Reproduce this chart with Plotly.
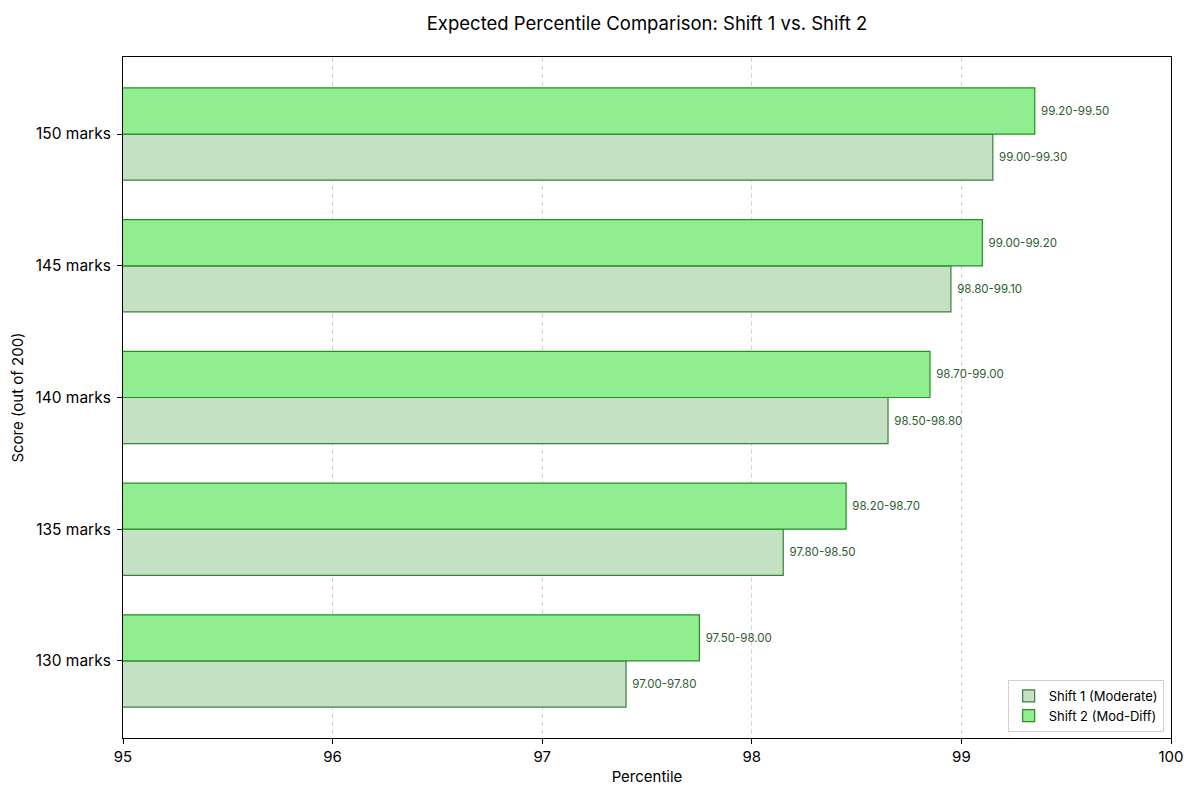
import plotly.graph_objects as go

# scores on the y axis, bottom to top
scores = ["130 marks", "135 marks", "140 marks", "145 marks", "150 marks"]

# expected percentile ranges per shift
shift1_low = [97.00, 97.80, 98.50, 98.80, 99.00]
shift1_high = [97.80, 98.50, 98.80, 99.10, 99.30]
shift2_low = [97.50, 98.20, 98.70, 99.00, 99.20]
shift2_high = [98.00, 98.70, 99.00, 99.20, 99.50]

x_ticks = [95, 96, 97, 98, 99, 100]

FONT = "Inter"


def midpoints(low, high):
    return [(a + b) / 2 for a, b in zip(low, high)]


def range_labels(low, high):
    # leading space keeps the label a little away from the bar end
    return [f" {a:.2f}-{b:.2f}" for a, b in zip(low, high)]


fig = go.Figure()

fig.add_trace(go.Bar(
    y=scores,
    x=midpoints(shift1_low, shift1_high),
    base=0,
    orientation="h",
    name="Shift 1 (Moderate)",
    marker=dict(color="#c4e1c4", line=dict(color="#3d7f3d", width=1.2)),
    text=range_labels(shift1_low, shift1_high),
    textposition="outside",
    textfont=dict(family=FONT, size=11.5, color="#2e5c2e"),
    cliponaxis=False,
))

fig.add_trace(go.Bar(
    y=scores,
    x=midpoints(shift2_low, shift2_high),
    base=0,
    orientation="h",
    name="Shift 2 (Mod-Diff)",
    marker=dict(color="#90ee90", line=dict(color="#229122", width=1.2)),
    text=range_labels(shift2_low, shift2_high),
    textposition="outside",
    textfont=dict(family=FONT, size=11.5, color="#2e5c2e"),
    cliponaxis=False,
))

# the page adds an 8px body margin, so margins are trimmed to match
fig.update_layout(
    width=1200,
    height=800,
    barmode="group",
    bargap=0.3,
    bargroupgap=0,
    plot_bgcolor="white",
    paper_bgcolor="white",
    font=dict(family=FONT, size=14, color="black"),
    margin=dict(l=115, r=37, t=49, b=70, autoexpand=False),
    title=dict(
        text="Expected Percentile Comparison: Shift 1 vs. Shift 2",
        xref="paper",
        x=0.5,
        xanchor="center",
        y=0.98,
        yanchor="middle",
        font=dict(family=FONT, size=18.5, color="black"),
    ),
    legend=dict(
        x=0.993,
        y=0.009,
        xanchor="right",
        yanchor="bottom",
        bgcolor="white",
        bordercolor="#d0d0d0",
        borderwidth=1,
        font=dict(family=FONT, size=13),
        tracegroupgap=0,
        traceorder="normal",
    ),
)

fig.update_xaxes(
    range=[95, 100],
    tickvals=x_ticks,
    ticks="outside",
    ticklen=5,
    tickcolor="black",
    showline=True,
    linecolor="black",
    linewidth=1,
    mirror=True,
    showgrid=True,
    gridcolor="#d3d3d3",
    griddash="5px,3px",
    gridwidth=1,
    zeroline=False,
    automargin=False,
    tickfont=dict(size=15),
    title=dict(text="Percentile", font=dict(size=15), standoff=6),
)

fig.update_yaxes(
    range=[-0.585, 4.585],
    ticks="outside",
    ticklen=5,
    tickcolor="black",
    showline=True,
    linecolor="black",
    linewidth=1,
    mirror=True,
    showgrid=False,
    automargin=False,
    ticklabelstandoff=3,
    tickfont=dict(size=15.5),
    title=dict(text="Score (out of 200)", font=dict(size=15), standoff=8),
)

fig.write_html("out.html")
